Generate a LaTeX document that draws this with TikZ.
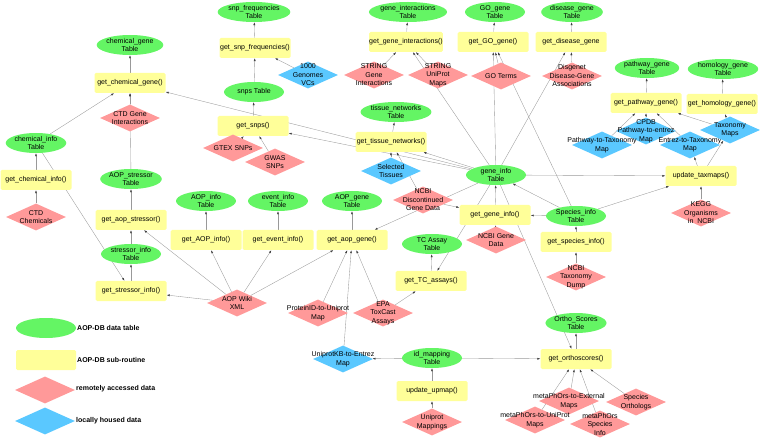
\documentclass[tikz,border=0pt]{standalone}
\usepackage{fontspec}
\setmainfont{Liberation Sans}
\usetikzlibrary{shapes.geometric,arrows.meta,backgrounds}
\definecolor{tablegreen}{RGB}{100,245,100}
\definecolor{routineyellow}{RGB}{255,255,153}
\definecolor{remotepink}{RGB}{255,153,153}
\definecolor{localblue}{RGB}{90,200,255}
\begin{document}
\begin{tikzpicture}[
  x=1pt, y=-1pt,
  every node/.style={font=\fontsize{7}{8.5}\selectfont, align=center, inner sep=0pt},
  datatable/.style={ellipse, fill=tablegreen, minimum width=60pt, minimum height=20pt},
  subroutine/.style={rectangle, rounded corners=1.5pt, fill=routineyellow, minimum width=71pt, minimum height=20pt},
  remotedata/.style={diamond, fill=remotepink, minimum width=60pt, minimum height=27pt},
  localdata/.style={diamond, fill=localblue, minimum width=60pt, minimum height=27pt},
  legendtext/.style={anchor=west, font=\fontsize{7}{8.5}\selectfont\bfseries},
  link/.style={draw=black!40, line width=0.35pt, -{Latex[length=3pt,width=2pt,color=black!75]}}
]
\useasboundingbox (0,0) rectangle (760,438);

\node[datatable] (chemgeneT) at (130,45) {chemical\_gene\\Table};
\node[subroutine] (getchemgene) at (130,83) {get\_chemical\_gene()};
\node[remotedata, label=center:{CTD Gene\\Interactions}] (ctdgi) at (130,118) {};
\node[datatable] (cheminfoT) at (36,143) {chemical\_info\\Table};
\node[subroutine] (getcheminfo) at (36,180) {get\_chemical\_info()};
\node[remotedata, label=center:{CTD\\Chemicals}] (ctdchem) at (36,217) {};
\node[datatable] (stressorT) at (131,179) {AOP\_stressor\\Table};
\node[subroutine] (getaopstress) at (131,220) {get\_aop\_stressor()};
\node[datatable] (stressinfoT) at (131,254) {stressor\_info\\Table};
\node[subroutine] (getstressinfo) at (131,291) {get\_stressor\_info()};

\node[datatable] (snpfreqT) at (254,12) {snp\_frequencies\\Table};
\node[subroutine] (getsnpfreq) at (255,48) {get\_snp\_frequencies()};
\node[localdata, label=center:{1000\\Genomes\\VCs}] (genomes) at (308,75) {};
\node[datatable] (snpsT) at (254,92) {snps Table};
\node[subroutine] (getsnps) at (253,126) {get\_snps()};
\node[remotedata, label=center:{GTEX SNPs}] (gtex) at (233,148) {};
\node[remotedata, label=center:{GWAS\\SNPs}] (gwas) at (275,162) {};

\node[datatable] (geneintT) at (408,12) {gene\_interactions\\Table};
\node[subroutine] (getgeneint) at (406,42) {get\_gene\_interactions()};
\node[remotedata, label=center:{STRING\\Gene\\Interactions}] (stringgi) at (374,75) {};
\node[remotedata, label=center:{STRING\\UniProt\\Maps}] (stringup) at (438,75) {};
\node[datatable] (gogeneT) at (495,12) {GO\_gene\\Table};
\node[subroutine] (getgo) at (493,42) {get\_GO\_gene()};
\node[remotedata, label=center:{GO Terms}] (goterms) at (501,76) {};
\node[datatable] (diseaseT) at (572,12) {disease\_gene\\Table};
\node[subroutine] (getdisease) at (571,42) {get\_disease\_gene};
\node[remotedata, label=center:{Disgenet\\Disease-Gene\\Associations}] (disgenet) at (572,76) {};
\node[datatable] (tissueT) at (396,112) {tissue\_networks\\Table};
\node[subroutine] (gettissue) at (391,142) {get\_tissue\_networks()};
\node[localdata, label=center:{Selected\\Tissues}] (tissues) at (391,171) {};

\node[datatable] (geneinfoT) at (496,175) {gene\_info\\Table};
\node[remotedata, label=center:{NCBI\\Discontinued\\Gene Data}] (ncbidisc) at (423,200) {};
\node[subroutine] (getgeneinfo) at (495,215) {get\_gene\_info()};
\node[remotedata, label=center:{NCBI Gene\\Data}] (ncbigene) at (496,240) {};
\node[datatable] (tcassayT) at (432,244) {TC Assay\\Table};
\node[subroutine] (gettc) at (431,281) {get\_TC\_assays()};
\node[datatable] (speciesT) at (576,216) {Species\_info\\Table};
\node[subroutine] (getspecies) at (576,242) {get\_species\_info()};
\node[remotedata, label=center:{NCBI\\Taxonomy\\Dump}] (ncbitax) at (576,277) {};

\node[datatable] (pathwayT) at (647,68) {pathway\_gene\\Table};
\node[subroutine] (getpathway) at (646,103) {get\_pathway\_gene()};
\node[datatable] (homologyT) at (723,69) {homology\_gene\\Table};
\node[subroutine] (gethomology) at (722,104) {get\_homology\_gene()};
\node[localdata, label=center:{CPDB\\Pathway-to-entrez\\Map}] (cpdb) at (646,131) {};
\node[localdata, label=center:{Pathway-to-Taxonomy\\Map}] (pathtax) at (602,145) {};
\node[localdata, label=center:{Entrez-to-Taxonomy\\Map}] (entreztax) at (690,145) {};
\node[localdata, label=center:{Taxonomy\\Maps}] (taxmaps) at (730,130) {};
\node[subroutine] (updtaxmaps) at (701,176) {update\_taxmaps()};
\node[remotedata, label=center:{KEGG\\Organisms\\in\ \ NCBI}] (kegg) at (701,213) {};

\node[datatable] (aopinfoT) at (206,201) {AOP\_info\\Table};
\node[subroutine] (getaopinfo) at (206,240) {get\_AOP\_info()};
\node[datatable] (eventT) at (278,201) {event\_info\\Table};
\node[subroutine] (getevent) at (278,240) {get\_event\_info()};
\node[datatable] (aopgeneT) at (352,201) {AOP\_gene\\Table};
\node[subroutine] (getaopgene) at (352,240) {get\_aop\_gene()};
\node[remotedata, label=center:{AOP Wiki\\XML}] (aopwiki) at (237,303) {};
\node[remotedata, label=center:{ProteinID-to-Uniprot\\Map}] (protuni) at (318,313) {};
\node[remotedata, label=center:{EPA\\ToxCast\\Assays}] (epa) at (383,313) {};
\node[localdata, label=center:{UniprotKB-to-Entrez\\Map}] (upentrez) at (343,359) {};

\node[datatable] (idmapT) at (432,358) {id\_mapping\\Table};
\node[subroutine] (updupmap) at (432,391) {update\_upmap()};
\node[remotedata, label=center:{Uniprot\\Mappings}] (upmaps) at (432,422) {};
\node[datatable] (orthoT) at (576,323) {Ortho\_Scores\\Table};
\node[subroutine] (getortho) at (576,359) {get\_orthoscores()};
\node[remotedata, label=center:{metaPhOrs-to-External\\Maps}] (mpext) at (569,401) {};
\node[remotedata, label=center:{metaPhOrs-to-UniProt\\Maps}] (mpuni) at (535,420) {};
\node[remotedata, label=center:{metaPhOrs\\Species\\Info}] (mpspec) at (600,424) {};
\node[remotedata, label=center:{Species\\Orthologs}] (specorth) at (636,402) {};

\node[datatable] (legtable) at (46,328) {};
\node[legendtext] (legtabletext) at (77,328) {AOP-DB data table};
\node[subroutine, minimum width=60pt] (legroutine) at (46,360) {};
\node[legendtext] (legroutinetext) at (77,360) {AOP-DB sub-routine};
\node[remotedata] (legremote) at (45,390) {};
\node[legendtext] (legremotetext) at (76,389) {remotely accessed data};
\node[localdata] (leglocal) at (45,421) {};
\node[legendtext] (leglocaltext) at (76,421) {locally housed data};

\begin{pgfonlayer}{background}
\draw[link] (getchemgene) -- (chemgeneT);
\draw[link] (ctdgi) -- (getchemgene);
\draw[link] (stressorT) -- (getchemgene);
\draw[link] (cheminfoT) -- (getchemgene);
\draw[link] (geneinfoT) -- (getchemgene);
\draw[link] (getcheminfo) -- (cheminfoT);
\draw[link] (ctdchem) -- (getcheminfo);
\draw[link] (cheminfoT) -- (getstressinfo);
\draw[link] (getaopstress) -- (stressorT);
\draw[link] (stressinfoT) -- (getaopstress);
\draw[link] (getstressinfo) -- (stressinfoT);
\draw[link] (aopwiki) -- (getstressinfo);
\draw[link] (aopwiki) -- (getaopstress);
\draw[link] (aopwiki) -- (getaopinfo);
\draw[link] (aopwiki) -- (getevent);
\draw[link] (aopwiki) -- (getaopgene);
\draw[link] (getaopinfo) -- (aopinfoT);
\draw[link] (getevent) -- (eventT);
\draw[link] (getaopgene) -- (aopgeneT);
\draw[link] (protuni) -- (getaopgene);
\draw[link] (upentrez) -- (getaopgene);
\draw[link] (epa) -- (getaopgene);
\draw[link] (geneinfoT) -- (getaopgene);
\draw[link] (epa) -- (gettc);
\draw[link] (gettc) -- (tcassayT);
\draw[link] (geneinfoT) -- (gettc);
\draw[link] (getsnpfreq) -- (snpfreqT);
\draw[link] (snpsT) -- (getsnpfreq);
\draw[link] (genomes) -- (getsnpfreq);
\draw[link] (getsnps) -- (snpsT);
\draw[link] (gtex) -- (getsnps);
\draw[link] (gwas) -- (getsnps);
\draw[link] (geneinfoT) -- (getsnps);
\draw[link] (gettissue) -- (tissueT);
\draw[link] (tissues) -- (gettissue);
\draw[link] (ncbidisc) -- (gettissue);
\draw[link] (geneinfoT) -- (gettissue);
\draw[link] (getgeneint) -- (geneintT);
\draw[link] (stringgi) -- (getgeneint);
\draw[link] (stringup) -- (getgeneint);
\draw[link] (geneinfoT) -- (getgeneint);
\draw[link] (getgo) -- (gogeneT);
\draw[link] (goterms) -- (getgo);
\draw[link] (geneinfoT) -- (getgo);
\draw[link] (speciesT) -- (getgo);
\draw[link] (getdisease) -- (diseaseT);
\draw[link] (disgenet) -- (getdisease);
\draw[link] (geneinfoT) -- (getdisease);
\draw[link] (getgeneinfo) -- (geneinfoT);
\draw[link] (ncbigene) -- (getgeneinfo);
\draw[link] (ncbidisc) -- (getgeneinfo);
\draw[link] (speciesT) -- (getgeneinfo);
\draw[link] (speciesT) -- (geneinfoT);
\draw[link] (getspecies) -- (speciesT);
\draw[link] (ncbitax) -- (getspecies);
\draw[link] (geneinfoT) -- (updtaxmaps);
\draw[link] (speciesT) -- (updtaxmaps);
\draw[link] (kegg) -- (updtaxmaps);
\draw[link] (updtaxmaps) -- (taxmaps);
\draw[link] (updtaxmaps) -- (entreztax);
\draw[link] (getpathway) -- (pathwayT);
\draw[link] (cpdb) -- (getpathway);
\draw[link] (pathtax) -- (getpathway);
\draw[link] (entreztax) -- (getpathway);
\draw[link] (taxmaps) -- (getpathway);
\draw[link] (gethomology) -- (homologyT);
\draw[link] (taxmaps) -- (gethomology);
\draw[link] (idmapT) -- (getortho);
\draw[link] (idmapT) -- (upentrez);
\draw[link] (updupmap) -- (idmapT);
\draw[link] (upmaps) -- (updupmap);
\draw[link] (getortho) -- (orthoT);
\draw[link] (geneinfoT) -- (getortho);
\draw[link] (mpext) -- (getortho);
\draw[link] (mpuni) -- (getortho);
\draw[link] (mpspec) -- (getortho);
\draw[link] (specorth) -- (getortho);
\end{pgfonlayer}
\end{tikzpicture}
\end{document}
